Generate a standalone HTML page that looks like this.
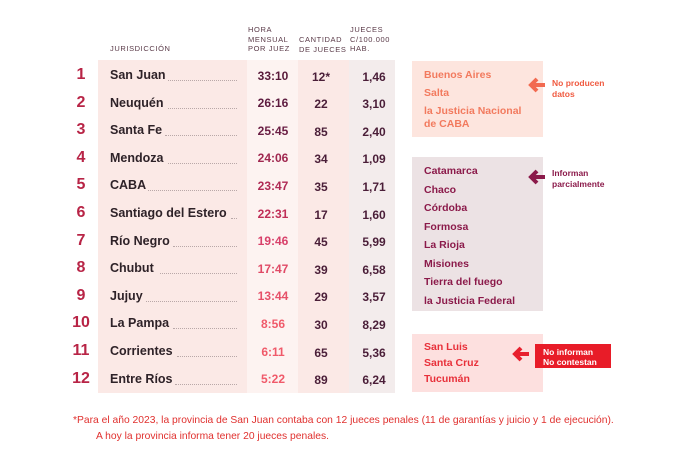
<!DOCTYPE html>
<html><head><meta charset="utf-8"><style>
body{margin:0;width:684px;height:452px;background:#fff;position:relative;font-family:"Liberation Sans",sans-serif;overflow:hidden}
div,svg{position:absolute}
.h{font-size:7.5px;color:#5a3a48;letter-spacing:.6px;line-height:9.5px}
.n{left:70px;width:22px;text-align:center;font-weight:bold;font-size:16px;color:#b82446}
.j{left:110px;font-size:12.5px;font-weight:bold;color:#2e2228}
.d{border-bottom:1px dotted #b9a8a8;height:0}
.t{left:249px;width:48px;text-align:center;font-size:12px;font-weight:bold}
.c{left:301px;width:40px;text-align:center;font-size:12px;font-weight:bold;color:#4a1e38}
.p{left:351px;width:46px;text-align:center;font-size:12px;font-weight:bold;color:#4a1e38}
.b{font-size:10.5px;font-weight:bold;line-height:18.5px;padding:4px 0 0 12px;box-sizing:border-box}
</style></head><body>
<div style="left:98px;top:60px;width:149px;height:333px;background:#fbe9e6"></div>
<div style="left:247px;top:60px;width:51px;height:333px;background:#fdf3f1"></div>
<div style="left:298px;top:60px;width:51px;height:333px;background:#fbe9e6"></div>
<div style="left:349px;top:60px;width:46px;height:333px;background:#f3ecec"></div>
<div class="h" style="left:110px;top:44px">JURISDICCIÓN</div>
<div class="h" style="left:248px;top:25px">HORA<br>MENSUAL<br>POR JUEZ</div>
<div class="h" style="left:299px;top:35px">CANTIDAD<br>DE JUECES</div>
<div class="h" style="left:350px;top:25px">JUECES<br>C/100.000<br>HAB.</div>

<div class="n" style="top:66px">1</div><div class="j" style="top:68px">San Juan</div><div class="d" style="left:168px;top:80px;width:69px"></div><div class="t" style="top:69px;color:#5a1a3a">33:10</div><div class="c" style="top:70px">12*</div><div class="p" style="top:70px">1,46</div>
<div class="n" style="top:94px">2</div><div class="j" style="top:96px">Neuquén</div><div class="d" style="left:168px;top:108px;width:69px"></div><div class="t" style="top:96px;color:#5e1c40">26:16</div><div class="c" style="top:97px">22</div><div class="p" style="top:97px">3,10</div>
<div class="n" style="top:121px">3</div><div class="j" style="top:123px">Santa Fe</div><div class="d" style="left:165px;top:135px;width:72px"></div><div class="t" style="top:124px;color:#6a1e44">25:45</div><div class="c" style="top:125px">85</div><div class="p" style="top:125px">2,40</div>
<div class="n" style="top:149px">4</div><div class="j" style="top:151px">Mendoza</div><div class="d" style="left:168px;top:163px;width:69px"></div><div class="t" style="top:151px;color:#a02850">24:06</div><div class="c" style="top:152px">34</div><div class="p" style="top:152px">1,09</div>
<div class="n" style="top:176px">5</div><div class="j" style="top:178px">CABA</div><div class="d" style="left:148px;top:190px;width:89px"></div><div class="t" style="top:179px;color:#b02a55">23:47</div><div class="c" style="top:180px">35</div><div class="p" style="top:180px">1,71</div>
<div class="n" style="top:204px">6</div><div class="j" style="top:206px">Santiago del Estero</div><div class="d" style="left:231px;top:218px;width:6px"></div><div class="t" style="top:207px;color:#c02e58">22:31</div><div class="c" style="top:208px">17</div><div class="p" style="top:208px">1,60</div>
<div class="n" style="top:232px">7</div><div class="j" style="top:234px">Río Negro</div><div class="d" style="left:173px;top:246px;width:64px"></div><div class="t" style="top:234px;color:#d8406a">19:46</div><div class="c" style="top:235px">45</div><div class="p" style="top:235px">5,99</div>
<div class="n" style="top:259px">8</div><div class="j" style="top:261px">Chubut</div><div class="d" style="left:160px;top:273px;width:77px"></div><div class="t" style="top:262px;color:#e04a66">17:47</div><div class="c" style="top:263px">39</div><div class="p" style="top:263px">6,58</div>
<div class="n" style="top:287px">9</div><div class="j" style="top:289px">Jujuy</div><div class="d" style="left:146px;top:301px;width:91px"></div><div class="t" style="top:289px;color:#e65068">13:44</div><div class="c" style="top:290px">29</div><div class="p" style="top:290px">3,57</div>
<div class="n" style="top:314px">10</div><div class="j" style="top:316px">La Pampa</div><div class="d" style="left:173px;top:328px;width:64px"></div><div class="t" style="top:317px;color:#f05a6a">8:56</div><div class="c" style="top:318px">30</div><div class="p" style="top:318px">8,29</div>
<div class="n" style="top:342px">11</div><div class="j" style="top:344px">Corrientes</div><div class="d" style="left:177px;top:356px;width:60px"></div><div class="t" style="top:345px;color:#f05a6a">6:11</div><div class="c" style="top:346px">65</div><div class="p" style="top:346px">5,36</div>
<div class="n" style="top:370px">12</div><div class="j" style="top:372px">Entre Ríos</div><div class="d" style="left:175px;top:384px;width:62px"></div><div class="t" style="top:372px;color:#f05a6a">5:22</div><div class="c" style="top:373px">89</div><div class="p" style="top:373px">6,24</div>

<div class="b" style="left:412px;top:61px;width:131px;height:76px;background:#fde5de;color:#f27a5e;line-height:18px;padding-top:5px">Buenos Aires<br>Salta<br><span style="display:block;line-height:13px;margin-top:3px">la Justicia Nacional<br>de CABA</span></div>
<svg style="left:528px;top:77px" width="18" height="16"><path d="M17 8H4M9 2L3 8l6 6" stroke="#f26a50" stroke-width="4" fill="none"/></svg>
<div style="left:552px;top:78px;font-size:8.5px;font-weight:bold;color:#f05a40;line-height:11px">No producen<br>datos</div>

<div class="b" style="left:412px;top:157px;width:131px;height:154px;background:#ece2e4;color:#8b1a4a;padding-top:5px">Catamarca<br>Chaco<br>Córdoba<br>Formosa<br>La Rioja<br>Misiones<br>Tierra del fuego<br>la Justicia Federal</div>
<svg style="left:528px;top:169px" width="18" height="16"><path d="M17 8H4M9 2L3 8l6 6" stroke="#8b1a4a" stroke-width="4" fill="none"/></svg>
<div style="left:552px;top:168px;font-size:8.5px;font-weight:bold;color:#8b1a4a;line-height:11px">Informan<br>parcialmente</div>

<div class="b" style="left:412px;top:334px;width:131px;height:58px;background:#fde0df;color:#e8303a;line-height:16px;padding-top:5px">San Luis<br>Santa Cruz<br>Tucumán</div>
<svg style="left:512px;top:346px" width="18" height="16"><path d="M17 8H4M9 2L3 8l6 6" stroke="#e8202e" stroke-width="4" fill="none"/></svg>
<div style="left:535px;top:344px;width:76px;height:24px;background:#e81c28;color:#fff;font-size:8.5px;font-weight:bold;line-height:10px;padding:3px 0 0 8px;box-sizing:border-box">No informan<br>No contestan</div>

<div style="left:73px;top:415px;font-size:10.3px;color:#e0302e">*Para el año 2023, la provincia de San Juan contaba con 12 jueces penales (11 de garantías y juicio y 1 de ejecución).</div>
<div style="left:96px;top:431px;font-size:10.3px;color:#e0302e">A hoy la provincia informa tener 20 jueces penales.</div>
</body></html>
